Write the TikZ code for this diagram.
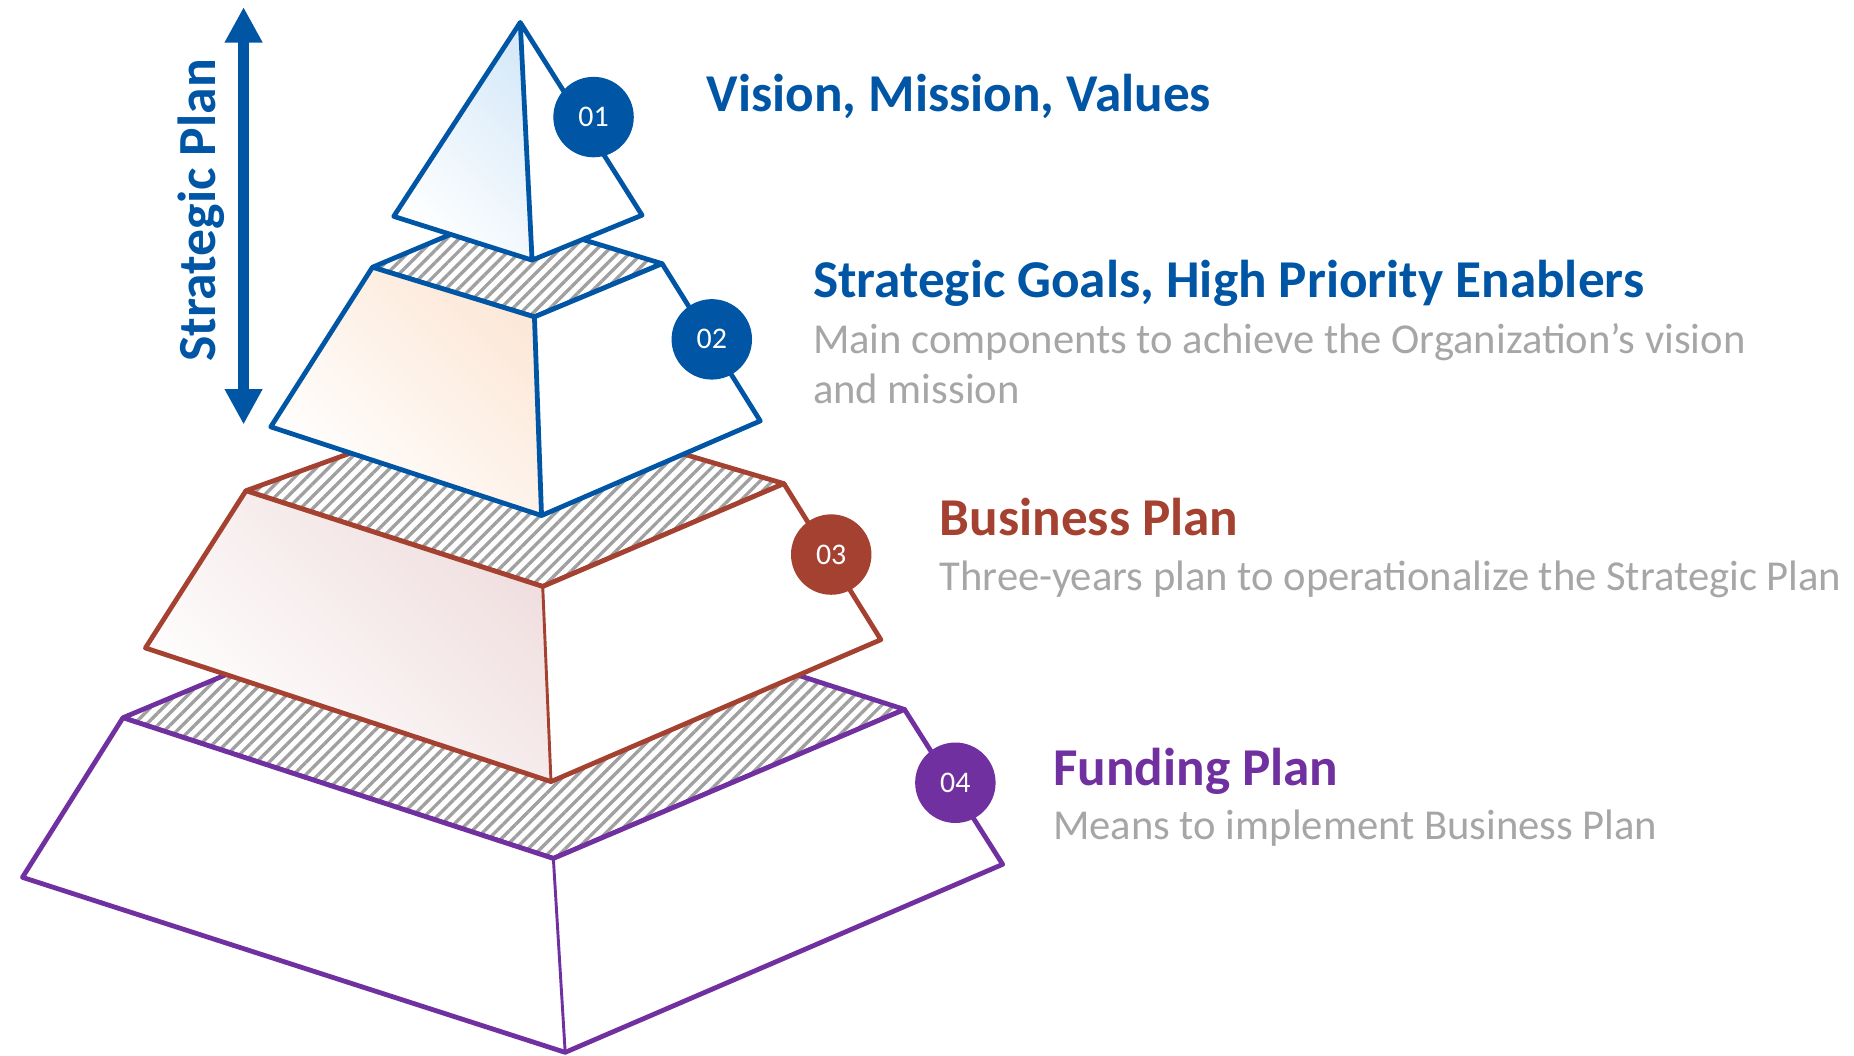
\documentclass[tikz,border=0pt]{standalone}
\usepackage{fontspec}
\setmainfont{Carlito}
\usetikzlibrary{arrows.meta,patterns.meta}
\definecolor{spBlue}{RGB}{0,85,165}
\definecolor{bpRed}{RGB}{165,65,48}
\definecolor{fpPurple}{RGB}{112,48,160}
\definecolor{subGray}{RGB}{166,166,166}
\definecolor{hatchGray}{RGB}{160,160,160}
\definecolor{skyTint}{RGB}{216,234,249}
\definecolor{peachTint}{RGB}{252,232,216}
\definecolor{roseTint}{RGB}{240,222,223}

\begin{document}
\begin{tikzpicture}[x=0.01cm, y=-0.01cm,
    edge/.style={line width=1.15pt, line join=round},
    hatchtop/.style={line width=1.15pt, line join=round,
      pattern={Lines[angle=45, distance=2.1pt, line width=0.8pt]}, pattern color=hatchGray},
    numdot/.style={circle, minimum size=0.68cm, inner sep=0pt, text=white,
      font=\fontsize{7.2}{8}\selectfont},
    ttl/.style={anchor=base west, inner sep=0pt, font=\fontsize{12.8}{15}\selectfont\bfseries},
    dsc/.style={anchor=base west, inner sep=0pt, text=subGray, font=\fontsize{10.25}{12}\selectfont}
  ]
  \useasboundingbox (0,0) rectangle (1568,893);

  \coordinate (ap) at (440,19);
  \coordinate (bl1) at (333,183);
  \coordinate (bf1) at (450,220);
  \coordinate (br1) at (543,182);

  \coordinate (tl2) at (315,226);
  \coordinate (tf2) at (452,268);
  \coordinate (tr2) at (560,223);
  \coordinate (tk2) at (422,181);
  \coordinate (bl2) at (229,361);
  \coordinate (bf2) at (458,436);
  \coordinate (br2) at (643,356);

  \coordinate (tl3) at (208,415);
  \coordinate (tf3) at (459,496);
  \coordinate (tr3) at (663,409);
  \coordinate (tk3) at (422,338);
  \coordinate (bl3) at (123,548);
  \coordinate (bf3) at (466,661);
  \coordinate (br3) at (745,541);

  \coordinate (tl4) at (104,607);
  \coordinate (tf4) at (468,726);
  \coordinate (tr4) at (765,600);
  \coordinate (tk4) at (401,483);
  \coordinate (bl4) at (19,742);
  \coordinate (bf4) at (478,890);
  \coordinate (br4) at (848,731);

  \foreach \i/\c/\g/\w in {4/fpPurple/white/0.7pt, 3/bpRed/roseTint/0.7pt, 2/spBlue/peachTint/1.15pt} {
    \draw[hatchtop, draw=\c] (tl\i) -- (tk\i) -- (tr\i) -- (tf\i) -- cycle;
    \shade[top color=\g, bottom color=white, shading angle=-45]
      (tl\i) -- (tf\i) -- (bf\i) -- (bl\i) -- cycle;
    \fill[white] (tf\i) -- (tr\i) -- (br\i) -- (bf\i) -- cycle;
    \draw[edge, draw=\c] (tl\i) -- (tf\i) -- (tr\i) -- (br\i) -- (bf\i) -- (bl\i) -- cycle;
    \draw[draw=\c, line width=\w] (tf\i) -- (bf\i);
  }

  \shade[top color=skyTint, bottom color=white, shading angle=-45] (ap) -- (bl1) -- (bf1) -- cycle;
  \fill[white] (ap) -- (bf1) -- (br1) -- cycle;
  \draw[edge, draw=spBlue] (ap) -- (bl1) -- (bf1) -- (br1) -- cycle (ap) -- (bf1);

  \node[numdot, fill=spBlue] (n1) at (502,99) {01};
  \node[numdot, fill=spBlue] (n2) at (602,287) {02};
  \node[numdot, fill=bpRed] (n3) at (703,469) {03};
  \node[numdot, fill=fpPurple] (n4) at (808,662) {04};

  \node[ttl, text=spBlue] (vmv) at (597,94.5) {Vision, Mission, Values};
  \node[ttl, text=spBlue] (sg) at (687,252) {Strategic Goals, High Priority Enablers};
  \node[dsc] (sgd1) at (687,298.7) {Main components to achieve the Organization’s vision};
  \node[dsc] (sgd2) at (687,341) {and mission};
  \node[ttl, text=bpRed] (bp) at (794,452.5) {Business Plan};
  \node[dsc] (bpd) at (794,499) {Three-years plan to operationalize the Strategic Plan};
  \node[ttl, text=fpPurple] (fp) at (890,664) {Funding Plan};
  \node[dsc] (fpd) at (890,710) {Means to implement Business Plan};

  \coordinate (sptop) at (206,6);
  \coordinate (spbot) at (206,359);
  \draw[spBlue, line width=0.1cm,
    {Triangle[width=0.3cm,length=0.3cm]}-{Triangle[width=0.3cm,length=0.3cm]}] (sptop) -- (spbot);
  \node[rotate=90, anchor=base, inner sep=0pt, text=spBlue,
    font=\fontsize{12.9}{15}\selectfont\bfseries] (splabel) at (182,178) {Strategic Plan};
\end{tikzpicture}
\end{document}
